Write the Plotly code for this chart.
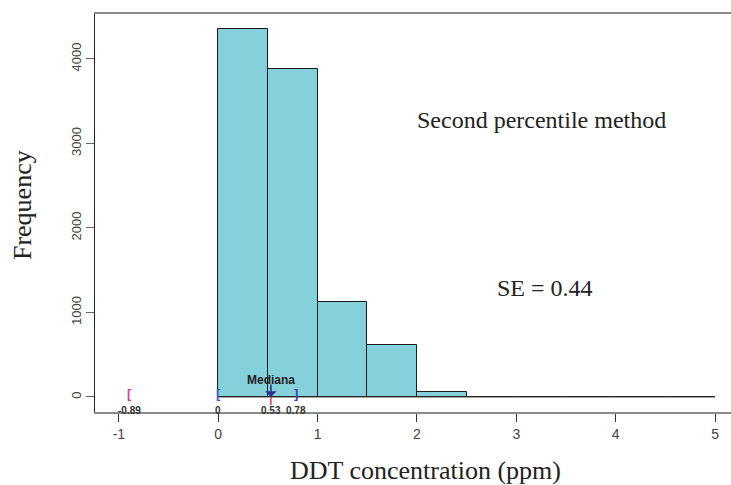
import plotly.graph_objects as go

# Histogram data (DDT concentration, ppm)
bin_edges = [0, 0.5, 1.0, 1.5, 2.0, 2.5, 3.0, 3.5, 4.0, 4.5, 5.0]
counts = [4355, 3882, 1124, 615, 59, 0, 0, 0, 0, 0]

# Interval markers
ci_lower_pct = -0.89
ci_lower_trunc = 0.0
median_val = 0.53
ci_upper = 0.78
se_value = 0.44

x_ticks = [-1, 0, 1, 2, 3, 4, 5]
y_ticks = [0, 1000, 2000, 3000, 4000]

x_title = "DDT concentration (ppm)"
y_title = "Frequency"

centers = [(a + b) / 2 for a, b in zip(bin_edges[:-1], bin_edges[1:])]
widths = [b - a for a, b in zip(bin_edges[:-1], bin_edges[1:])]

fig = go.Figure()
fig.add_trace(go.Bar(
    x=centers, y=counts, width=widths,
    marker=dict(color="#84D1DB", line=dict(color="#1a1a1a", width=1)),
    showlegend=False, hoverinfo="x+y",
))
# baseline of the histogram (zero-height bins drawn as a line, as in R)
fig.add_trace(go.Scatter(
    x=[bin_edges[0], bin_edges[-1]], y=[0, 0], mode="lines",
    line=dict(color="#333333", width=1), showlegend=False, hoverinfo="skip",
))

serif = "Liberation Serif, Times New Roman, serif"
sans = "Liberation Sans, Arial, sans-serif"

ann = []
ann.append(dict(x=1.98, y=3280, xref="x", yref="y", text="Second percentile method",
                showarrow=False, xanchor="left", yanchor="middle",
                font=dict(family=serif, size=24, color="#222")))
ann.append(dict(x=2.79, y=1290, xref="x", yref="y", text=f"SE = {se_value}",
                showarrow=False, xanchor="left", yanchor="middle",
                font=dict(family=serif, size=24, color="#222")))
# axis titles
ann.append(dict(x=0.519, y=0, xref="paper", yref="paper", text=x_title,
                showarrow=False, xanchor="center", yanchor="middle", yshift=-58,
                font=dict(family=serif, size=26, color="#222")))
ann.append(dict(x=0, y=0.52, xref="paper", yref="paper", text=y_title,
                showarrow=False, xanchor="center", yanchor="middle", xshift=-73,
                textangle=-90, font=dict(family=serif, size=26, color="#222")))
# brackets
bracket_specs = [(ci_lower_pct, "[", "#D8409C"),
                 (ci_lower_trunc, "[", "#3C5AC8"),
                 (ci_upper, "]", "#3A45B0")]
for bx, btxt, bcol in bracket_specs:
    ann.append(dict(x=bx, y=0, text=f"<b>{btxt}</b>", showarrow=False, xanchor="center",
                    yanchor="bottom", yshift=-6,
                    font=dict(family=sans, size=13, color=bcol)))
# value labels
for v in [ci_lower_pct, ci_lower_trunc, median_val, ci_upper]:
    lbl = f"{v:g}"
    ann.append(dict(x=v, y=0, text=f"<b>{lbl}</b>", showarrow=False, xanchor="center",
                    yanchor="top", yshift=-6,
                    font=dict(family=sans, size=10, color="#333")))
# median arrow
ann.append(dict(x=median_val, y=0, ax=0, ay=-14, text="", showarrow=True,
                arrowhead=1, arrowsize=1.2, arrowwidth=1.6, arrowcolor="#2B2F8F"))
ann.append(dict(x=median_val, y=0, text="<b>Mediana</b>", showarrow=False,
                xanchor="center", yanchor="middle", yshift=17,
                font=dict(family=sans, size=12, color="#222")))

shapes = [dict(type="line", xref="x", yref="y", x0=median_val, x1=median_val,
               ysizemode="pixel", yanchor=0, y0=0, y1=-8,
               line=dict(color="#F03050", width=1.5))]

fig.update_layout(
    width=731, height=485,
    margin=dict(l=95, r=0, t=14, b=73),
    paper_bgcolor="white", plot_bgcolor="white",
    bargap=0, annotations=ann, shapes=shapes,
    xaxis=dict(
        range=[-1.24, 5.16], tickvals=x_ticks, ticktext=[str(t) for t in x_ticks],
        showgrid=False, zeroline=False, automargin=False,
        showline=True, mirror=True, linecolor="#8a8a8a", linewidth=1.5,
        ticks="outside", ticklen=8, tickcolor="#333", tickwidth=1.2,
        tickfont=dict(family=sans, size=14, color="#444"),
    ),
    yaxis=dict(
        range=[-178, 4532], tickvals=y_ticks, ticktext=[str(t) for t in y_ticks],
        showgrid=False, zeroline=False, automargin=False,
        showline=True, linecolor="#222", linewidth=1.2,
        ticks="outside", ticklen=8, tickcolor="#666", tickwidth=1.2,
        tickangle=-90,
        tickfont=dict(family=sans, size=13, color="#444"),
    ),
)

fig.write_html("out.html", config={"displayModeBar": False},
               post_script="document.body.style.margin='0';")
